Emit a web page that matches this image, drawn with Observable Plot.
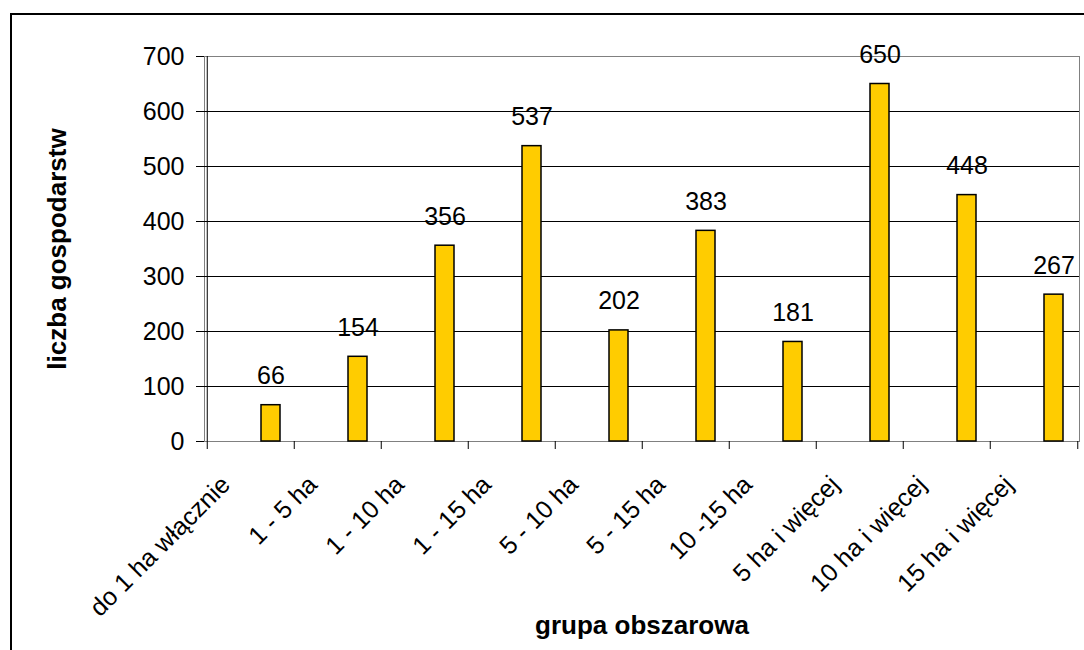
<!DOCTYPE html>
<html>
<head>
<meta charset="utf-8">
<script src="https://cdn.jsdelivr.net/npm/d3@7"></script>
<script src="https://cdn.jsdelivr.net/npm/@observablehq/plot@0.6"></script>
<style>
  html, body { margin: 0; padding: 0; background: #fff; }
  #wrap { position: relative; width: 1084px; height: 650px; overflow: hidden; }
  #border { position: absolute; left: 10px; top: 13px; width: 1200px; height: 800px; border: 2px solid #000; pointer-events: none; }
</style>
</head>
<body>
<div id="wrap"><div id="chart"></div><div id="border"></div></div>
<script>
const categories = ["do 1 ha włącznie", "1 - 5 ha", "1 - 10 ha", "1 - 15 ha", "5 - 10 ha", "5 - 15 ha", "10 -15 ha", "5 ha i więcej", "10 ha i więcej", "15 ha i więcej"];
const values = [66, 154, 356, 537, 202, 383, 181, 650, 448, 267];
const yTicks = [0, 100, 200, 300, 400, 500, 600, 700];
const gridTicks = [100, 200, 300, 400, 500, 600];
const yTitle = "liczba gospodarstw";
const xTitle = "grupa obszarowa";

const data = categories.map((c, i) => ({cat: c, value: values[i]}));

const W = 1084, H = 650, ML = 204, MR = 5, MT = 56, MB = 209;
const bw = (W - ML - MR) / categories.length;
const font = "'Liberation Sans', Arial, sans-serif";

const chart = Plot.plot({
  width: W, height: H,
  marginLeft: ML, marginRight: MR, marginTop: MT, marginBottom: MB,
  style: {fontFamily: font, fontSize: "25px", color: "#000", background: "#fff"},
  x: {domain: categories, padding: 0, label: null},
  y: {domain: [0, 700], label: null},
  marks: [
    Plot.frame({stroke: "#808080"}),
    Plot.ruleY(gridTicks, {stroke: "#000", strokeWidth: 1}),
    Plot.ruleX([categories[0]], {dx: -bw / 2, stroke: "#000"}),
    Plot.axisY({ticks: yTicks, tickSize: 8, tickPadding: 12, fontSize: 25, label: null, stroke: "#000"}),
    Plot.axisX({tickSize: 8, tickFormat: () => "", dx: -bw / 2, label: null, stroke: "#000"}),
    Plot.axisX([categories[categories.length - 1]], {tickSize: 8, tickFormat: () => "", dx: bw / 2, label: null, stroke: "#000"}),
    Plot.axisX({tickSize: 0, tickRotate: -45, tickPadding: 39, dx: -25, fontSize: 25, label: null}),
    Plot.barY(data, {x: "cat", y: "value", fill: "#FFCC00", stroke: "#000", strokeWidth: 1.5, insetLeft: 54, insetRight: 14}),
    Plot.text(data, {x: "cat", y: "value", text: d => String(d.value), dx: 20, dy: -29, lineAnchor: "middle", fontSize: 25, fill: "#000"}),
    Plot.text([yTitle], {frameAnchor: "left", dx: -147, rotate: -90, textAnchor: "middle", fontWeight: "bold", fontSize: 26, fill: "#000"}),
    Plot.text([xTitle], {frameAnchor: "bottom", dy: 192, textAnchor: "middle", fontWeight: "bold", fontSize: 26, fill: "#000"})
  ]
});
document.getElementById("chart").appendChild(chart);
</script>
</body>
</html>
